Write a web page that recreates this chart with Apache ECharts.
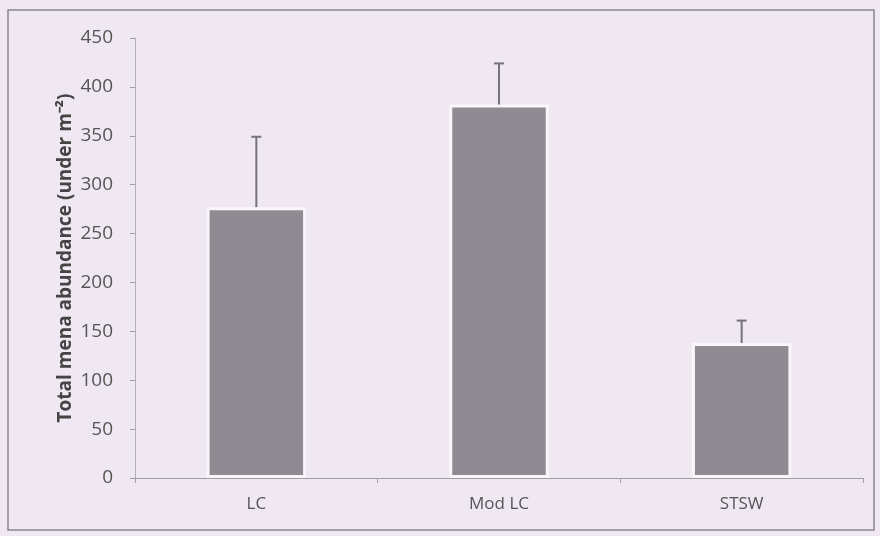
<!DOCTYPE html>
<html><head><meta charset="utf-8">
<script src="https://cdn.jsdelivr.net/npm/echarts@6/dist/echarts.min.js"></script>
<style>html,body{margin:0;padding:0;background:#efe7f1;}#c{width:880px;height:536px;}</style>
</head><body><div id="c"></div>
<script>
const categories = ['LC', 'Mod LC', 'STSW'];
const means = [277, 382, 138];
const errUpper = [349, 424, 161];
const yTicks = [0, 450, 50];

const chart = echarts.init(document.getElementById('c'));
chart.setOption({
  backgroundColor: '#efe7f1',
  animation: false,
  graphic: [{type:'rect', shape:{x:8,y:10,width:866,height:520}, style:{fill:'none', stroke:'#8a868c', lineWidth:1.5}, z:-1}],
  grid: {left:135, right:17, top:38, bottom:58},
  xAxis: {
    type:'category', data: categories,
    axisLine:{lineStyle:{color:'#a09ca4', width:1}},
    axisTick:{show:true, alignWithLabel:false, lineStyle:{color:'#a09ca4'}, length:5},
    axisLabel:{color:'#555', fontSize:17, fontFamily:'"Open Sans", sans-serif', margin:18}
  },
  yAxis: {
    type:'value', min:yTicks[0], max:yTicks[1], interval:yTicks[2],
    name:'Total mena abundance (under m\u207B\u00B2)', nameLocation:'middle', nameGap:60,
    nameMoveOverlap:false,
    nameTextStyle:{color:'#444', fontSize:19, fontWeight:'bold', fontFamily:'"Open Sans", sans-serif'},
    axisLine:{show:true, lineStyle:{color:'#b4b0b8'}},
    axisTick:{show:true, inside:false, length:5, lineStyle:{color:'#a09ca4'}},
    splitLine:{show:false},
    axisLabel:{color:'#555', fontSize:19, fontFamily:'"Open Sans", sans-serif', margin:22}
  },
  series: [
    {type:'bar', data: means, barWidth:'41%',
     itemStyle:{color:'#8e8b93', borderColor:'#f9f6fa', borderWidth:3}},
    {type:'custom', data: categories.map((c,i)=>[i, means[i], errUpper[i]]),
     renderItem: function(params, api){
       const base = api.coord([api.value(0), api.value(1)]);
       const top = api.coord([api.value(0), api.value(2)]);
       const x = base[0];
       return {type:'group', children:[
         {type:'line', shape:{x1:x,y1:base[1],x2:x,y2:top[1]}, style:{stroke:'#77737a', lineWidth:2}},
         {type:'line', shape:{x1:x-5,y1:top[1],x2:x+5,y2:top[1]}, style:{stroke:'#77737a', lineWidth:2}}
       ]};
     }, z:5}
  ]
});
</script></body></html>
